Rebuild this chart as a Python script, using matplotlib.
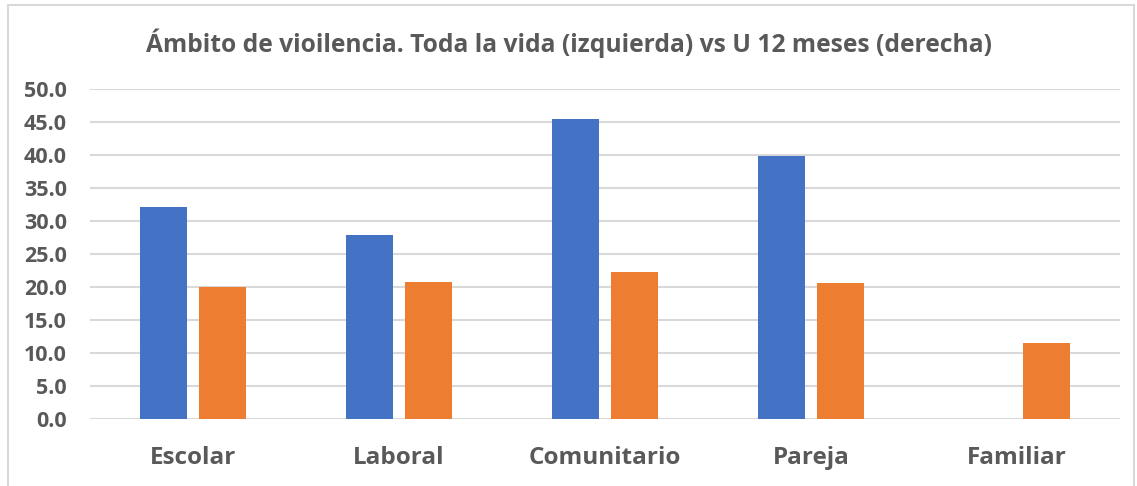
import matplotlib
matplotlib.use("Agg")
import matplotlib.pyplot as plt
import numpy as np
from matplotlib.patches import Rectangle

categorias = ["Escolar", "Laboral", "Comunitario", "Pareja", "Familiar"]
toda_la_vida = [32.2, 27.9, 45.4, 39.8, 0.0]
ultimos_12_meses = [20.1, 20.8, 22.3, 20.7, 11.5]
yticks = [0, 5, 10, 15, 20, 25, 30, 35, 40, 45, 50]

plt.rcParams['font.family'] = ['Open Sans', 'DejaVu Sans']
texto = '#595959'

fig = plt.figure(figsize=(11.37, 4.86), dpi=100)
ax = fig.add_axes([0.079, 0.137, 0.906, 0.68])

x = np.arange(len(categorias))
ancho = 0.228
ax.bar(x - 0.142, toda_la_vida, ancho, color='#4472C4', zorder=3)
ax.bar(x + 0.142, ultimos_12_meses, ancho, color='#ED7D31', zorder=3)

ax.set_xlim(-0.5, len(categorias) - 0.5)
ax.set_ylim(0, 50)
ax.set_yticks(yticks)
ax.set_yticklabels([f"{v:.1f}" for v in yticks], fontsize=15.5, fontweight='bold', color=texto)
ax.set_xticks(x)
ax.set_xticklabels(categorias, fontsize=17.5, fontweight='bold', color=texto)
ax.tick_params(axis='both', length=0)
ax.tick_params(axis='y', pad=16.5)
ax.tick_params(axis='x', pad=19)
ax.yaxis.grid(True, color='#d9d9d9', linewidth=1.5, zorder=0)
for s in ax.spines.values():
    s.set_visible(False)

fig.text(0.5, 0.91, "Ámbito de vioilencia. Toda la vida (izquierda) vs U 12 meses (derecha)",
         ha='center', va='center', fontsize=17.7, fontweight='bold', color=texto)

fig.patches.append(Rectangle((0.007, -0.01), 0.99, 0.999, transform=fig.transFigure,
                             fill=False, edgecolor='#d9d9d9', linewidth=1.5))

fig.savefig("out.png", dpi=100, facecolor='white')
